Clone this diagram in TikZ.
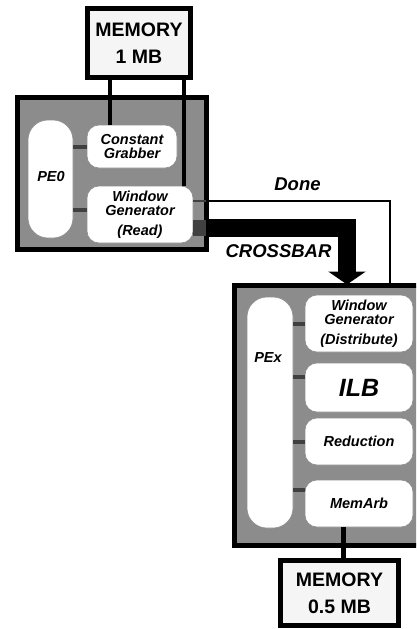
\documentclass[tikz,border=0pt]{standalone}
\usepackage{fontspec}
\setmainfont{Liberation Sans}
\usetikzlibrary{arrows.meta}
\tikzset{
  outerbox/.style={draw=black, line width=5pt, fill=black!45, rectangle, inner sep=0pt, outer sep=0pt},
  membox/.style={draw=black, line width=5pt, fill=black!4, rectangle, inner sep=0pt, outer sep=0pt,
    align=center, font=\fontsize{19.5}{27}\selectfont\bfseries},
  unit/.style={draw=black!45, line width=0.6pt, fill=white, rectangle, rounded corners=12pt, inner sep=0pt, outer sep=0pt,
    align=center, font=\fontsize{14.5}{14}\selectfont\bfseries\itshape},
  pill/.style={draw=black!45, line width=0.6pt, fill=white, rectangle, rounded corners=20pt, inner sep=0pt, outer sep=0pt},
  lbl/.style={font=\fontsize{14.5}{14.5}\selectfont\bfseries\itshape, inner sep=0pt},
  biglbl/.style={font=\fontsize{18.5}{18.5}\selectfont\bfseries\itshape, inner sep=0pt},
  memline/.style={draw=black, line width=4pt},
  stub/.style={draw=black!75, line width=4pt},
  doneline/.style={draw=black, line width=2pt},
  xbar/.style={draw=black, line width=18pt, line join=miter},
}
\begin{document}
\begin{tikzpicture}[x=1pt, y=-1pt]
\useasboundingbox (0,0) rectangle (416,629);
\clip (0,0) rectangle (416,629);
% outer boards
\node[outerbox, minimum width=189pt, minimum height=152pt] (pe0box) at (111.5,173.5) {};
\node[outerbox, minimum width=187pt, minimum height=260pt] (pexbox) at (328,415.5) {};
% memories
\node[membox, minimum width=103pt, minimum height=69pt] (mem1) at (139,43) {MEMORY\\1 MB};
\node[membox, minimum width=118pt, minimum height=65pt] (mem2) at (339.5,593) {MEMORY\\0.5 MB};
% PE0 board
\node[pill, minimum width=45pt, minimum height=118pt] (pe0) at (50.5,179) {};
\node[lbl] (pe0t) at (51,177) {PE0};
\node[unit, minimum width=90pt, minimum height=43pt] (cg) at (132,146.5) {Constant\\Grabber};
\node[unit, minimum width=106pt, minimum height=57pt] (wgr) at (140,214.5) {Window\\Generator\\[6pt](Read)};
% PEx board
\node[pill, minimum width=46pt, minimum height=231pt] (pex) at (270,412.5) {};
\node[lbl] (pext) at (268,358) {PEx};
\node[unit, minimum width=108pt, minimum height=57pt] (wgd) at (359,323.5) {Window\\Generator\\[6pt](Distribute)};
\node[unit, minimum width=108pt, minimum height=49pt, font=\fontsize{25}{25}\selectfont\bfseries\itshape] (ilb) at (359,387.5) {ILB};
\node[unit, minimum width=108pt, minimum height=47pt] (red) at (359,441.5) {Reduction};
\node[unit, minimum width=108pt, minimum height=47pt] (marb) at (359,503.5) {MemArb};
% memory lines
\coordinate (c1) at ([xshift=-22pt]cg.north);
\coordinate (c2) at ([xshift=44pt]wgr.north);
\coordinate (c3) at ([xshift=-16pt]marb.south);
\draw[memline] (c1 |- mem1.south) -- (c1);
\draw[memline] (c2 |- mem1.south) -- (c2);
\draw[memline, line width=5pt] (c3) -- (c3 |- mem2.north);
% stubs
\draw[stub] (pe0.east |- cg.west) -- (cg.west);
\draw[stub] ([yshift=4.5pt]wgr.west -| pe0.east) -- ([yshift=4.5pt]wgr.west);
\draw[stub] (pex.east |- wgd.west) -- (wgd.west);
\draw[stub] ([yshift=10.5pt]ilb.west -| pex.east) -- ([yshift=10.5pt]ilb.west);
\draw[stub] (pex.east |- red.west) -- (red.west);
\draw[stub] ([yshift=13.5pt]marb.west -| pex.east) -- ([yshift=13.5pt]marb.west);
% Done
\coordinate (d0) at ([yshift=14pt]wgr.east);
\coordinate (dcol) at ([xshift=62pt]pexbox.north);
\draw[stub, line width=2pt] (d0) -- (d0 -| pe0box.east);
\draw[doneline] (d0 -| pe0box.east) -- (d0 -| dcol) -- (dcol);
\node[biglbl] (done) at (297.5,184) {Done};
% Crossbar
\coordinate (x0) at ([yshift=-13pt]wgr.east);
\coordinate (xcol) at ([xshift=19pt]pexbox.north);
\draw[stub, line width=16pt] (x0) -- (x0 -| pe0box.east);
\draw[xbar, -{Triangle[width=37pt,length=13pt]}] (x0 -| pe0box.east) -- (x0 -| xcol) -- ([yshift=1pt]xcol);
\node[biglbl] (xbt) at (278.5,251) {CROSSBAR};
\end{tikzpicture}
\end{document}
